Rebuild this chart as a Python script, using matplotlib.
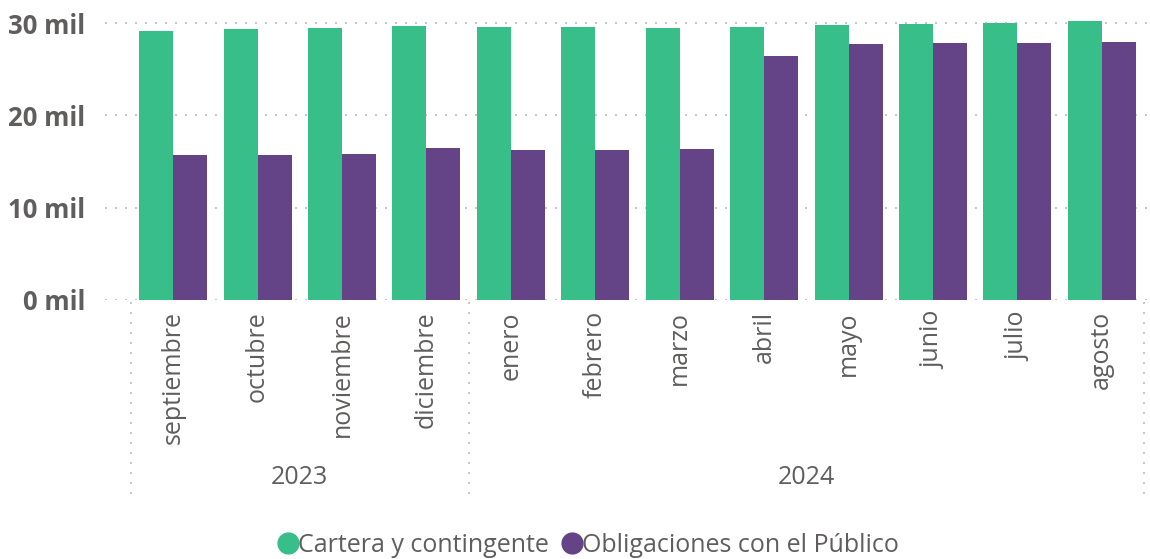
import matplotlib
matplotlib.use("Agg")
import matplotlib.pyplot as plt
from matplotlib.lines import Line2D
import numpy as np

months = ["septiembre", "octubre", "noviembre", "diciembre", "enero", "febrero",
          "marzo", "abril", "mayo", "junio", "julio", "agosto"]
years = ["2023", "2024"]
year_counts = [4, 8]
cartera = [29.13, 29.35, 29.46, 29.68, 29.57, 29.57, 29.46, 29.57, 29.79, 29.89, 30.0, 30.22]
obligaciones = [15.70, 15.70, 15.81, 16.46, 16.25, 16.25, 16.35, 26.43, 27.73, 27.83, 27.83, 27.94]
series_names = ["Cartera y contingente", "Obligaciones con el Público"]
colors = ["#37BE89", "#644487"]
yticks = [0, 10, 20, 30]

plt.rcParams['font.family'] = ['Open Sans', 'DejaVu Sans']
W, H = 1150, 559
fig = plt.figure(figsize=(W / 100, H / 100), dpi=100)

step = 84.45
left_px = 105
x_left = -0.5 - (131 - left_px) / step
x_right = 11.5 + 6 / step
right_px = 1150
ax_bottom_px, ax_top_px = 300, 15.6
ax = fig.add_axes([left_px / W, 1 - ax_bottom_px / H, (right_px - left_px) / W,
                   (ax_bottom_px - ax_top_px) / H])
ymax = (300 - 15.6) / 9.233
ax.set_xlim(x_left, x_right)
ax.set_ylim(0, ymax)

x = np.arange(len(months))
bw = 34 / step
ax.bar(x - bw / 2, cartera, width=bw, color=colors[0], zorder=2)
ax.bar(x + bw / 2, obligaciones, width=bw, color=colors[1], zorder=2)

for s in ax.spines.values():
    s.set_visible(False)

ax.set_yticks(yticks)
ax.set_yticklabels([f"{v} mil" for v in yticks], fontsize=18.5, fontweight='bold', color='#605E5C')
ax.tick_params(axis='y', length=0, pad=14)
ax.yaxis.grid(True, color='#C8C8C8', linestyle=(0, (1, 4)), linewidth=1.44, zorder=0)
ax.set_axisbelow(True)

ax.set_xticks(x)
ax.set_xticklabels(months, rotation=90, fontsize=18, color='#605E5C')
ax.tick_params(axis='x', length=0, pad=8)

def px_to_axes_y(py):
    return (ax_bottom_px - py) / (ax_bottom_px - ax_top_px)

bounds = [-0.5]
for c in year_counts:
    bounds.append(bounds[-1] + c)
for b in bounds:
    ax.plot([b, b], [px_to_axes_y(302), px_to_axes_y(500)], transform=ax.get_xaxis_transform(),
            color='#C8C8C8', linestyle=(0, (1, 4)), linewidth=1.44, clip_on=False)
for i, yr in enumerate(years):
    cx = (bounds[i] + bounds[i + 1]) / 2
    ax.text(cx, px_to_axes_y(478), yr, transform=ax.get_xaxis_transform(),
            ha='center', va='center', fontsize=18, color='#605E5C')

handles = [Line2D([], [], marker='o', linestyle='none', markersize=15,
                  markerfacecolor=c, markeredgecolor=c) for c in colors]
fig.legend(handles, series_names, loc='center', bbox_to_anchor=(586 / W, 1 - 545 / H),
           ncol=2, frameon=False, fontsize=18, labelcolor='#605E5C',
           handletextpad=-0.2, columnspacing=0.3, handlelength=1.2)

fig.savefig("out.png", dpi=100)
